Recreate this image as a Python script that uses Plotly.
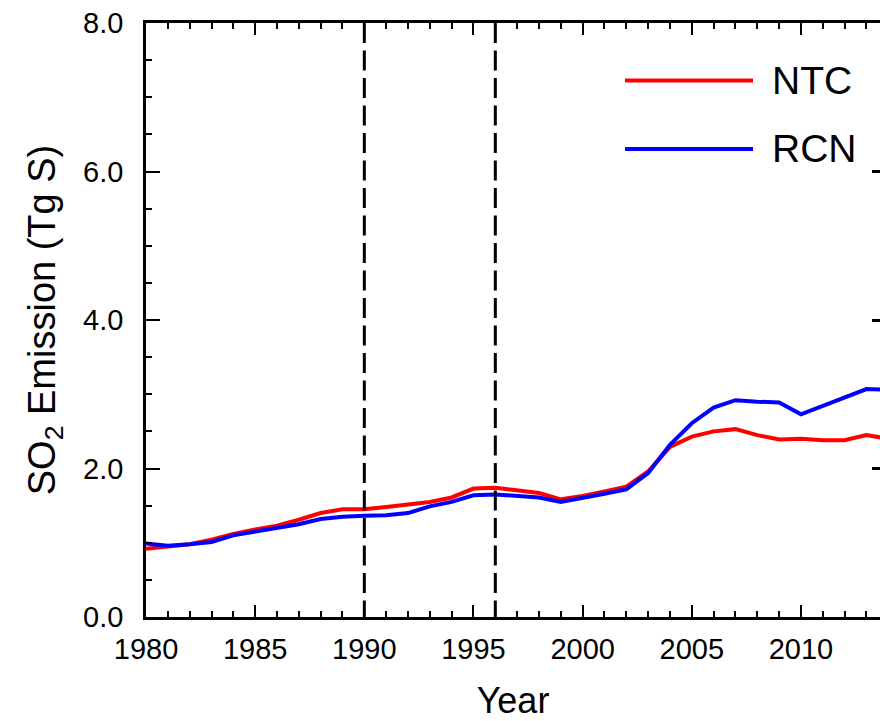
import plotly.graph_objects as go

years = list(range(1980, 2015))
ntc = [0.92, 0.95, 0.98, 1.04, 1.12, 1.18, 1.23, 1.31, 1.40, 1.45,
       1.45, 1.48, 1.52, 1.55, 1.61, 1.73, 1.74, 1.71, 1.67, 1.585,
       1.63, 1.69, 1.755, 1.96, 2.29, 2.43, 2.50, 2.53, 2.45, 2.39,
       2.40, 2.38, 2.38, 2.45, 2.40]
rcn = [0.99, 0.96, 0.98, 1.01, 1.10, 1.15, 1.19, 1.25, 1.32, 1.35,
       1.365, 1.37, 1.40, 1.49, 1.55, 1.64, 1.65, 1.63, 1.61, 1.55,
       1.60, 1.66, 1.72, 1.94, 2.32, 2.61, 2.82, 2.92, 2.90, 2.89,
       2.73, 2.84, 2.95, 3.07, 3.06]
series_names = ["NTC", "RCN"]
series_colors = ["#ff0000", "#0000ff"]
period_marks = [1990, 1996]
x_ticks = [1980, 1985, 1990, 1995, 2000, 2005, 2010]
y_ticks = [0.0, 2.0, 4.0, 6.0, 8.0]
x_view = [1980, 2013.62]   # visible part of the (cropped) time axis
y_range = [0, 8]

FONT = "Liberation Sans, Arial, Helvetica, sans-serif"

fig = go.Figure()
# RCN on the overlaid right axis (same range) so that the right-hand ticks get drawn
for name, vals, col, ax in zip(series_names, [ntc, rcn], series_colors, ["y", "y2"]):
    fig.add_trace(go.Scatter(x=years, y=vals, mode="lines", name=name, yaxis=ax,
                             line=dict(color=col, width=4), showlegend=False))

for yr in period_marks:
    fig.add_shape(type="line", x0=yr, x1=yr, xref="x", y0=1, y1=0, yref="paper",
                  line=dict(color="black", width=3, dash="20px,7.5px"), layer="above")

# legend (long line samples as in the original)
leg_y = [0.903, 0.788]
for name, col, yy in zip(series_names, series_colors, leg_y):
    fig.add_shape(type="line", xref="paper", yref="paper", x0=0.6526, x1=0.8270,
                  y0=yy, y1=yy, line=dict(color=col, width=4))
    fig.add_annotation(xref="paper", yref="paper", x=0.8500, y=yy, text=name,
                       showarrow=False, xanchor="left", yanchor="middle",
                       font=dict(family=FONT, size=39, color="black"))

tickfont = dict(family=FONT, size=29, color="black")

fig.update_xaxes(range=x_view, tickmode="array", tickvals=x_ticks,
                 showline=True, linecolor="black", linewidth=2.5, mirror="ticks",
                 ticks="inside", tickcolor="black", tickwidth=2, ticklen=12,
                 minor=dict(dtick=1, ticks="inside", ticklen=6, tickcolor="black", tickwidth=2),
                 showgrid=False, zeroline=False, tickfont=tickfont,
                 title=dict(text="Year", font=dict(family=FONT, size=36, color="black"), standoff=28),
                 ticklabelstandoff=4)

fig.update_layout(
    width=880, height=721, autosize=False,
    margin=dict(l=146, r=0, t=23, b=104, pad=0),
    paper_bgcolor="white", plot_bgcolor="white",
    font=dict(family=FONT, color="black"),
    yaxis=dict(range=y_range, tickmode="array", tickvals=y_ticks, tickformat=".1f",
               showline=True, linecolor="black", linewidth=2.5, mirror=False,
               ticks="inside", tickcolor="black", tickwidth=2, ticklen=14,
               minor=dict(dtick=0.5, ticks="inside", ticklen=6, tickcolor="black", tickwidth=2),
               showgrid=False, zeroline=False, tickfont=tickfont,
               title=dict(text="SO<sub>2</sub> Emission (Tg S)",
                          font=dict(family=FONT, size=38, color="black"), standoff=16),
               ticklabelstandoff=14),
    yaxis2=dict(overlaying="y", side="right", range=y_range, tickmode="array",
                tickvals=y_ticks, showticklabels=False, showline=False,
                ticks="inside", ticklen=8, tickwidth=2.5, tickcolor="black",
                showgrid=False, zeroline=False),
)

fig.write_html("out.html", config={"displayModeBar": False})
